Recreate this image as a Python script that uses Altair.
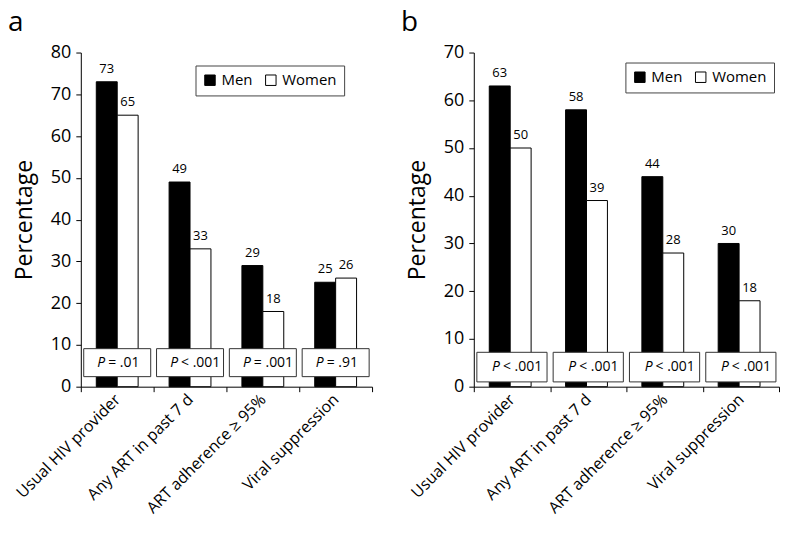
import altair as alt
import pandas as pd

categories = ["Usual HIV provider", "Any ART in past 7 d", "ART adherence \u2265 95%", "Viral suppression"]
sexes = ["Men", "Women"]
men_a = [73, 49, 29, 25]
women_a = [65, 33, 18, 26]
p_a = ["= .01", "< .001", "= .001", "= .91"]
men_b = [63, 58, 44, 30]
women_b = [50, 39, 28, 18]
p_b = ["< .001", "< .001", "< .001", "< .001"]

FONT = "Open Sans"


def panel(letter, men, women, pvals, ymax, width, box_lo, box_hi, lx, ly, tdx):
    rows = []
    for c, m, w in zip(categories, men, women):
        rows.append({"category": c, "sex": "Men", "value": m})
        rows.append({"category": c, "sex": "Women", "value": w})
    df = pd.DataFrame(rows)
    pdf = pd.DataFrame({"category": categories, "p": pvals})

    x = alt.X(
        "category:N",
        sort=categories,
        scale=alt.Scale(paddingInner=0, paddingOuter=0),
        axis=alt.Axis(
            title=None, labelAngle=315, labelAlign="right", labelBaseline="middle",
            tickBand="extent", labelFontSize=16, labelFont=FONT, labelColor="black",
            domainColor="black", tickColor="black", tickSize=5, labelPadding=5,
            labelLimit=300,
        ),
    )
    yscale = alt.Scale(domain=[0, ymax], nice=False)
    yaxis = alt.Axis(
        title="Percentage", titleFontSize=23, titleFont=FONT, titleFontWeight="normal",
        titleColor="black", titlePadding=14, values=list(range(0, ymax + 1, 10)),
        labelFontSize=18, labelFont=FONT, labelColor="black", grid=False,
        domainColor="black", tickColor="black", tickSize=5, labelPadding=5,
        labelOverlap=False,
    )
    y = alt.Y("value:Q", scale=yscale, axis=yaxis)
    xo = alt.XOffset("sex:N", sort=sexes, scale=alt.Scale(paddingOuter=0.74, paddingInner=0))

    bars = alt.Chart(df).mark_bar(stroke="black", strokeWidth=1).encode(
        x=x, xOffset=xo, y=y,
        color=alt.Color(
            "sex:N", sort=sexes,
            scale=alt.Scale(domain=sexes, range=["black", "white"]),
            legend=alt.Legend(
                orient="none", legendX=lx, legendY=ly, direction="horizontal", title=None,
                strokeColor="#444", fillColor="white", padding=7, symbolType="square",
                symbolSize=110, symbolStrokeColor="black", symbolStrokeWidth=1,
                labelFontSize=15, labelFont=FONT, labelColor="black", columnPadding=10,
                labelOffset=4,
            ),
        ),
    )
    labels = alt.Chart(df).mark_text(baseline="alphabetic", dy=-9, fontSize=13, font=FONT, color="black").encode(
        x=x, xOffset=xo, y=y, text="value:Q"
    )
    boxes = alt.Chart(pdf).mark_bar(
        fill="white", stroke="#333", strokeWidth=1, width=alt.RelativeBandSize(0.92)
    ).encode(
        x=x,
        y=alt.YDatum(box_lo, scale=yscale, axis=yaxis),
        y2=alt.Y2Datum(box_hi),
    )
    mid = (box_lo + box_hi) / 2
    ptxt = alt.Chart(pdf).mark_text(
        text="P", fontStyle="italic", align="right", baseline="middle", dx=-12, fontSize=14, font=FONT, color="black"
    ).encode(x=x, y=alt.YDatum(mid, scale=yscale, axis=yaxis))
    rest = alt.Chart(pdf).mark_text(
        align="left", baseline="middle", dx=-9, fontSize=14, font=FONT, color="black"
    ).encode(x=x, y=alt.YDatum(mid, scale=yscale, axis=yaxis), text="p:N")

    return alt.layer(bars, labels, boxes, ptxt, rest).properties(
        width=width, height=335,
        title=alt.TitleParams(letter, anchor="start", frame="group", dx=tdx, fontSize=28,
                              font=FONT, fontWeight="normal", color="black", offset=7),
    )


pa = panel("a", men_a, women_a, p_a, 80, 292, 2.4, 9.1, 115, 13, -73)
pb = panel("b", men_b, women_b, p_b, 70, 306, 1.0, 7.2, 152, 10, -73)

chart = alt.hconcat(pa, pb, spacing=28).resolve_scale(color="independent", y="independent").configure(
    padding={"left": 0, "top": 0, "right": 0, "bottom": 0}
).configure_view(stroke=None)

chart.save("out.html", embed_options={"renderer": "svg", "actions": False})
